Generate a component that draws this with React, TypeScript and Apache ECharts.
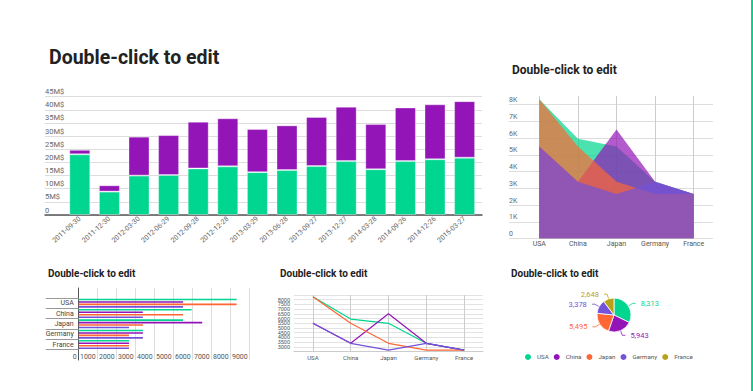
import React, { useEffect, useRef } from 'react';
import * as echarts from 'echarts';

// Main stacked bar chart (values in millions of $)
const dates = ['2011-09-30','2011-12-30','2012-03-30','2012-06-29','2012-09-28','2012-12-28','2013-03-29','2013-06-28','2013-09-27','2013-12-27','2014-03-28','2014-09-26','2014-12-26','2015-03-27'];
const revenueGreen = [23.1, 8.9, 15.0, 15.2, 17.7, 18.5, 16.3, 17.1, 18.6, 20.5, 17.4, 20.5, 21.2, 21.8];
const revenuePurple = [1.7, 2.4, 14.8, 15.2, 17.8, 18.3, 16.4, 17.0, 18.7, 20.7, 17.2, 20.4, 20.9, 21.5];

// Country charts
const countries = ['USA', 'China', 'Japan', 'Germany', 'France'];
const seriesGreen = [8313, 5943, 5495, 3378, 2648];
const seriesMagenta = [5495, 3378, 6500, 3378, 2648];
const seriesOrange = [8313, 5495, 3378, 2648, 2648];
const seriesViolet = [5495, 3378, 2648, 3378, 2648];
const pieValues = [8313, 5943, 5495, 3378, 2648];

const COLORS = ['#00d68f', '#9315b8', '#ff6633', '#7452d9', '#b9a21a'];
const TITLE = 'Double-click to edit';

export default function App() {
  const ref = useRef<HTMLDivElement>(null);
  useEffect(() => {
    const chart = echarts.init(ref.current!, null, { renderer: 'svg' });
    const allSeries = [seriesGreen, seriesMagenta, seriesOrange, seriesViolet];
    const hCats = ['', ...[...countries].reverse()];
    const hidden = { show: false };
    const axisGray = '#666';
    const plain = (v: number) => String(v);
    const option: any = {
      animation: false,
      textStyle: { fontFamily: 'Roboto, sans-serif' },
      color: COLORS,
      title: [
        { text: TITLE, left: 49, top: 47, padding: 0, textStyle: { fontSize: 19.5, fontWeight: 'bold', color: '#222' } },
        { text: TITLE, left: 512, top: 64, padding: 0, textStyle: { fontSize: 12, fontWeight: 'bold', color: '#222' } },
        { text: TITLE, left: 48, top: 268, padding: 0, textStyle: { fontSize: 10, fontWeight: 'bold', color: '#222' } },
        { text: TITLE, left: 280, top: 268, padding: 0, textStyle: { fontSize: 10, fontWeight: 'bold', color: '#222' } },
        { text: TITLE, left: 511, top: 268, padding: 0, textStyle: { fontSize: 10, fontWeight: 'bold', color: '#222' } },
      ],
      legend: {
        data: countries, padding: 0,
        left: 523, top: 352, icon: 'circle', itemWidth: 8, itemHeight: 8, itemGap: 3,
        textStyle: { fontSize: 6.2, color: '#555' },
      },
      grid: [
        { left: 45, right: 271, top: 96.7, bottom: 176 },
        { left: 65, right: 273.6, top: 96.7, bottom: 176 },
        { left: 509, right: 40, top: 104.5, bottom: 152.5 },
        { left: 520, right: 40, top: 96, bottom: 152.5 },
        { left: 78.7, right: 503.3, top: 288, bottom: 31 },
        { left: 78.7, right: 503.3, top: 298, bottom: 31 },
        { left: 294, right: 270, top: 294.9, bottom: 39.4 },
      ],
      xAxis: [
        { gridIndex: 0, type: 'value', min: 0, max: 1, axisLine: { show: true, onZero: false, lineStyle: { color: '#555', width: 1.5 } }, axisTick: hidden, axisLabel: hidden, splitLine: hidden },
        { gridIndex: 1, type: 'category', data: dates, axisLine: hidden, axisTick: hidden,
          axisLabel: { rotate: 42, fontSize: 7, color: axisGray, margin: 3, interval: 0 } },
        { gridIndex: 2, type: 'value', min: 0, max: 1, show: false },
        { gridIndex: 3, type: 'category', data: countries, boundaryGap: true, axisLine: hidden,
          axisTick: { show: true, inside: true, length: 142.5, alignWithLabel: true, lineStyle: { color: '#ccc' } },
          axisLabel: { fontSize: 7, color: '#555', margin: 2 } },
        { gridIndex: 4, type: 'value', min: 0, max: 9000, interval: 1000, axisLine: hidden, axisTick: hidden,
          splitLine: { lineStyle: { color: '#ddd' } },
          axisLabel: { fontSize: 7, color: '#555', align: 'right', margin: -6.5, padding: [0, 2, 0, 0], formatter: plain } },
        { gridIndex: 5, type: 'value', min: 0, max: 9000, show: false },
        { gridIndex: 6, type: 'category', data: countries, boundaryGap: true,
          axisLine: { lineStyle: { color: '#ccc' } },
          axisTick: { show: true, inside: true, length: 56.6, alignWithLabel: true, lineStyle: { color: '#ccc' } },
          axisLabel: { fontSize: 6, color: '#555', margin: 2.5 } },
      ],
      yAxis: [
        { gridIndex: 0, type: 'value', min: 0, max: 45, interval: 5, axisLine: hidden, axisTick: hidden,
          splitLine: { lineStyle: { color: '#ddd' } },
          axisLabel: { inside: true, align: 'left', verticalAlign: 'bottom', margin: 0, fontSize: 7.5, color: axisGray, padding: [0, 0, 1, 0],
            formatter: (v: number) => (v === 0 ? '0' : v + 'M$') } },
        { gridIndex: 1, type: 'value', min: 0, max: 45, show: false },
        { gridIndex: 2, type: 'value', min: 0, max: 8, interval: 1, axisLine: hidden, axisTick: hidden,
          splitLine: { lineStyle: { color: '#ddd' } },
          axisLabel: { inside: true, align: 'left', verticalAlign: 'bottom', margin: 0, fontSize: 7, color: axisGray, padding: [0, 0, 1, 0],
            formatter: (v: number) => (v === 0 ? '0' : v + 'K') } },
        { gridIndex: 3, type: 'value', min: 0, max: 8500, show: false },
        { gridIndex: 4, type: 'value', min: 0, max: 1, axisLine: { show: true, lineStyle: { color: '#555' } }, axisTick: hidden, axisLabel: hidden, splitLine: hidden },
        { gridIndex: 5, type: 'category', data: hCats, axisLine: hidden,
          axisTick: { show: true, length: 33, interval: (i: number) => i >= 1, lineStyle: { color: '#999' } },
          axisLabel: { fontSize: 7, color: '#444', margin: 5, interval: 0 } },
        { gridIndex: 6, type: 'value', min: 2500, max: 8500, interval: 500, axisLine: hidden, axisTick: hidden,
          splitLine: { lineStyle: { color: '#e2e2e2' } },
          axisLabel: { fontSize: 5.5, color: '#555', margin: 4, formatter: plain } },
      ],
      series: [
        { type: 'bar', xAxisIndex: 1, yAxisIndex: 1, stack: 'rev', barWidth: 21, data: revenueGreen,
          itemStyle: { color: COLORS[0], borderColor: 'rgba(255,255,255,0.35)', borderWidth: 1 } },
        { type: 'bar', xAxisIndex: 1, yAxisIndex: 1, stack: 'rev', barWidth: 21, data: revenuePurple,
          itemStyle: { color: COLORS[1], borderColor: 'rgba(255,255,255,0.35)', borderWidth: 1 } },
        ...allSeries.map((d, i) => ({
          type: 'line', xAxisIndex: 3, yAxisIndex: 3, data: d, symbol: 'none',
          lineStyle: { width: 0 }, areaStyle: { color: COLORS[i], opacity: 0.7 }, itemStyle: { color: COLORS[i] },
        })),
        ...allSeries.map((d, i) => ({
          type: 'bar', xAxisIndex: 5, yAxisIndex: 5, barWidth: 1.6, barGap: '55%',
          data: ['-', ...[...d].reverse()], itemStyle: { color: COLORS[i] },
        })),
        ...allSeries.map((d, i) => ({
          type: 'line', xAxisIndex: 6, yAxisIndex: 6, data: d, symbol: 'none',
          lineStyle: { width: 1.2, color: COLORS[i] }, itemStyle: { color: COLORS[i] },
        })),
        {
          type: 'pie', center: [614, 315], radius: 17, startAngle: 90,
          itemStyle: { borderColor: '#fff', borderWidth: 0.8 },
          label: { fontSize: 7.5, formatter: (p: any) => Number(p.value).toLocaleString('en-US') },
          labelLine: { length: 5, length2: 3, lineStyle: { width: 0.8 } },
          data: countries.map((c, i) => ({ name: c, value: pieValues[i], label: { color: COLORS[i] } })),
        },
      ],
      graphic: [
        { type: 'rect', shape: { x: 751, y: 0, width: 2, height: 391 }, style: { fill: '#00d68f' } },
      ],
    };
    chart.setOption(option);
    return () => chart.dispose();
  }, []);
  return (
    <div ref={ref} style={{ position: 'fixed', left: 0, top: 0, width: 753, height: 391, background: '#fff' }} />
  );
}
